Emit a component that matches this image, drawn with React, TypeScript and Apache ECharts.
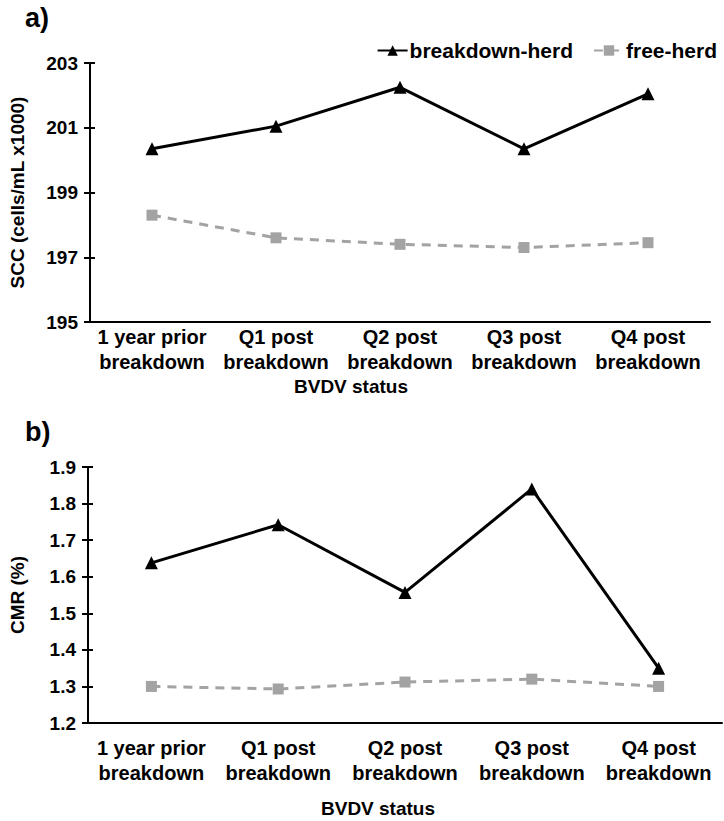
import React, { useEffect, useRef } from "react";
import * as echarts from "echarts";

// Categories shared by both panels
const categories = [
  "1 year prior\nbreakdown",
  "Q1 post\nbreakdown",
  "Q2 post\nbreakdown",
  "Q3 post\nbreakdown",
  "Q4 post\nbreakdown",
];

// Panel a) somatic cell count (cells/mL x1000)
const sccBreakdown = [200.35, 201.05, 202.25, 200.35, 202.05];
const sccFree = [198.3, 197.6, 197.4, 197.3, 197.45];

// Panel b) cow mortality rate (%)
const cmrBreakdown = [1.638, 1.742, 1.557, 1.84, 1.35];
const cmrFree = [1.3, 1.293, 1.312, 1.32, 1.3];

const seriesNames = ["breakdown-herd", "free-herd"];

const FONT = "Arial, 'Liberation Sans', Helvetica, sans-serif";
const GREY = "#a3a3a3";

export default function App() {
  const ref = useRef<HTMLDivElement>(null);

  useEffect(() => {
    if (!ref.current) return;
    const chart = echarts.init(ref.current, undefined, { renderer: "svg" });

    const labelStyle = {
      fontFamily: FONT,
      fontWeight: "bold" as const,
      fontSize: 19,
      color: "#000",
    };

    const xAxisBase = (gridIndex: number, margin: number) => ({
      type: "category" as const,
      gridIndex,
      data: categories,
      boundaryGap: true,
      axisLine: { lineStyle: { color: "#000", width: 2 } },
      axisTick: { alignWithLabel: true, length: 5, lineStyle: { color: "#000", width: 2 } },
      axisLabel: { ...labelStyle, fontSize: 20, margin, lineHeight: 25, interval: 0 },
      splitLine: { show: false },
    });
    const xAxisInner = (gridIndex: number) => ({
      type: "category" as const,
      gridIndex,
      data: categories,
      position: "bottom" as const,
      boundaryGap: true,
      axisLine: { show: false },
      axisTick: { inside: true, alignWithLabel: true, length: 5, lineStyle: { color: "#000", width: 2 } },
      axisLabel: { show: false },
      splitLine: { show: false },
    });

    const yAxisBase = (gridIndex: number, min: number, max: number, interval: number, name: string, fmt: (v: number) => string, nameGap: number) => ({
      type: "value" as const,
      gridIndex,
      min,
      max,
      interval,
      name,
      nameLocation: "middle" as const,
      nameGap,
      nameTextStyle: { ...labelStyle, fontSize: 19 },
      axisLine: { show: true, lineStyle: { color: "#000", width: 2 } },
      axisTick: { show: true, length: 6, lineStyle: { color: "#000", width: 2 } },
      axisLabel: { ...labelStyle, margin: 12, formatter: fmt },
      splitLine: { show: false },
    });
    const yAxisInner = (gridIndex: number, min: number, max: number, interval: number) => ({
      type: "value" as const,
      gridIndex,
      min,
      max,
      interval,
      position: "left" as const,
      axisLine: { show: false },
      axisTick: { show: true, inside: true, length: 5, lineStyle: { color: "#000", width: 2 } },
      axisLabel: { show: false },
      splitLine: { show: false },
    });

    const solidSeries = (xIdx: number, yIdx: number, data: number[]) => ({
      name: seriesNames[0],
      type: "line" as const,
      xAxisIndex: xIdx,
      yAxisIndex: yIdx,
      data,
      symbol: "triangle",
      symbolSize: 13,
      itemStyle: { color: "#000" },
      lineStyle: { color: "#000", width: 3 },
      z: 3,
    });
    const dashedSeries = (xIdx: number, yIdx: number, data: number[]) => ({
      name: seriesNames[1],
      type: "line" as const,
      xAxisIndex: xIdx,
      yAxisIndex: yIdx,
      data,
      symbol: "rect",
      symbolSize: 11,
      itemStyle: { color: GREY },
      lineStyle: { color: GREY, width: 3, type: [9, 7] },
      z: 2,
    });

    chart.setOption({
      animation: false,
      backgroundColor: "#fff",
      textStyle: { fontFamily: FONT },
      legend: {
        data: seriesNames,
        right: 2,
        top: 35,
        itemWidth: 30,
        itemHeight: 13,
        itemGap: 20,
        textStyle: { fontFamily: FONT, fontSize: 21, color: "#000", fontWeight: "bold", padding: [0, 0, 0, -3] },
      },
      grid: [
        { left: 90, right: 14, top: 63, height: 259 },
        { left: 88, right: 2, top: 467, height: 256 },
      ],
      xAxis: [xAxisBase(0, 2), xAxisInner(0), xAxisBase(1, 12), xAxisInner(1)],
      yAxis: [
        yAxisBase(0, 195, 203, 2, "SCC (cells/mL x1000)", (v) => String(v), 63),
        yAxisInner(0, 195, 203, 2),
        yAxisBase(1, 1.2, 1.9, 0.1, "CMR (%)", (v) => v.toFixed(1), 61),
        yAxisInner(1, 1.2, 1.9, 0.1),
      ],
      series: [
        solidSeries(0, 0, sccBreakdown),
        dashedSeries(0, 0, sccFree),
        solidSeries(2, 2, cmrBreakdown),
        dashedSeries(2, 2, cmrFree),
      ],
      graphic: [
        {
          type: "text",
          left: 25,
          top: 4,
          style: { text: "a)", font: `bold 27px ${FONT}`, fill: "#000" },
        },
        {
          type: "text",
          left: 25,
          top: 418,
          style: { text: "b)", font: `bold 27px ${FONT}`, fill: "#000" },
        },
        {
          type: "text",
          x: 351,
          y: 386,
          style: { text: "BVDV status", font: `bold 19px ${FONT}`, fill: "#000", align: "center", verticalAlign: "middle" },
        },
        {
          type: "text",
          x: 378,
          y: 808,
          style: { text: "BVDV status", font: `bold 19px ${FONT}`, fill: "#000", align: "center", verticalAlign: "middle" },
        },
      ],
    });

    return () => chart.dispose();
  }, []);

  return (
    <div
      ref={ref}
      style={{ position: "fixed", left: 0, top: 0, width: 724, height: 821, background: "#fff" }}
    />
  );
}
